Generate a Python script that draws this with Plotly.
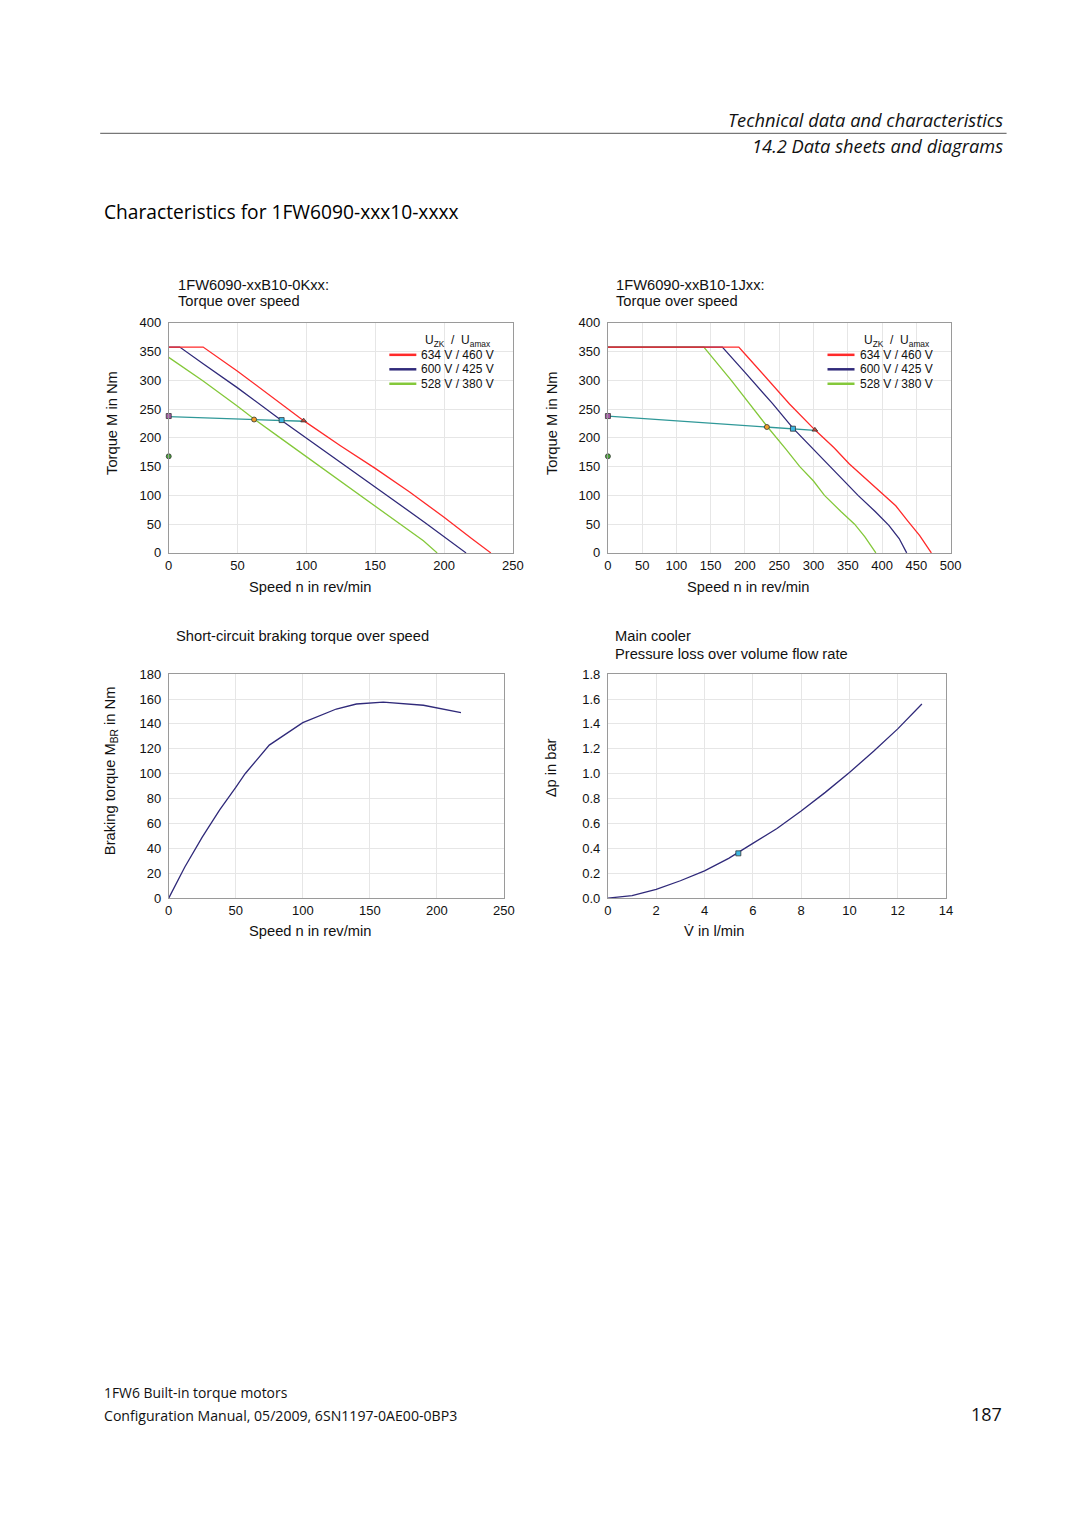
import plotly.graph_objects as go

PAGE_W, PAGE_H = 1080, 1527
BODY_MARGIN = 8
W, H = PAGE_W - 2 * BODY_MARGIN, PAGE_H - 2 * BODY_MARGIN
# measured photo mapping: photo = S * page + C  (compensated below)
SX, CX = 0.9855, 3.95
SY, CY = 0.9922, 5.5

# ---------------- data ----------------
# Top-left: 1FW6090-xxB10-0Kxx torque over speed
tl_red_x = [0, 25, 50, 75, 98, 125, 150, 175, 200, 220, 234]
tl_red_y = [358, 358, 316, 272, 230, 186, 147, 106, 62, 25, 0]
tl_blue_x = [0, 8, 25, 50, 81, 100, 125, 155, 186, 216]
tl_blue_y = [358, 358, 329, 287, 232, 200, 157, 106, 53, 0]
tl_green_x = [0, 25, 50, 62, 81, 112, 139, 168, 185, 195]
tl_green_y = [340, 299, 255, 233, 200, 147, 100, 50, 21, 0]
tl_teal_x = [0, 62, 82, 98]
tl_teal_y = [237, 232, 231, 229]

# Top-right: 1FW6090-xxB10-1Jxx torque over speed
tr_red_x = [0, 191, 200, 228, 265, 302, 330, 352, 380, 403, 420, 438, 455, 472]
tr_red_y = [358, 358, 346, 308, 259, 214, 183, 155, 125, 100, 82, 55, 30, 0]
tr_blue_x = [0, 167, 200, 240, 270, 300, 320, 345, 365, 390, 410, 425, 436]
tr_blue_y = [358, 358, 314, 260, 217, 180, 155, 125, 100, 72, 48, 25, 0]
tr_green_x = [0, 140, 180, 233, 260, 280, 300, 316, 340, 360, 375, 391]
tr_green_y = [358, 358, 300, 219, 180, 150, 125, 100, 72, 50, 28, 0]
tr_teal_x = [0, 232, 270, 302]
tr_teal_y = [238, 219, 216, 213]

# Marker points (purple square, orange point, cyan square, triangle, green circle)
tl_pts_x = [0, 62, 82, 98, 0]
tl_pts_y = [238, 232, 231, 230, 168]
tr_pts_x = [0, 232, 270, 302, 0]
tr_pts_y = [238, 219, 216, 214, 168]

# Bottom-left: short-circuit braking torque
bl_x = [0, 12, 25, 38, 50, 57, 75, 100, 125, 140, 160, 190, 218]
bl_y = [0, 25, 49, 71, 89, 100, 123, 141, 152, 156, 157.5, 155, 149]

# Bottom-right: pressure loss over volume flow
br_x = [0, 1, 2, 3, 4, 5, 6, 7, 8, 9, 10, 11, 12, 13]
br_y = [0, 0.02, 0.07, 0.14, 0.22, 0.32, 0.44, 0.56, 0.70, 0.85, 1.01, 1.18, 1.36, 1.56]
br_pt_x = [5.4]
br_pt_y = [0.36]

legend_labels = ["634 V / 460 V", "600 V / 425 V", "528 V / 380 V"]
RED, BLUE, GREEN, TEAL = "#ff2a2a", "#302a7a", "#84c83a", "#2f9898"
pt_symbols = ["square", "circle", "square", "triangle-up", "circle"]
pt_colors = ["#a85aa8", "#f0a028", "#3cb8e4", "#c84a3a", "#4aa83a"]


# target photo pixel -> paper coordinate
def px(x):
    page = (x - CX) / SX
    return (page - BODY_MARGIN) / W


def py(y):
    page = (y - CY) / SY
    return 1 - (page - BODY_MARGIN) / H


ARIAL = "Liberation Sans, Arial, DejaVu Sans, sans-serif"
OPEN = "Open Sans, Noto Sans, sans-serif"

fig = go.Figure()


def add_line(x, y, color, xa, ya, width=1.3):
    fig.add_trace(go.Scatter(x=x, y=y, mode="lines", line=dict(color=color, width=width),
                             xaxis=xa, yaxis=ya, showlegend=False, hoverinfo="skip"))


# top-left
add_line(tl_green_x, tl_green_y, GREEN, "x", "y")
add_line(tl_blue_x, tl_blue_y, BLUE, "x", "y")
add_line(tl_red_x, tl_red_y, RED, "x", "y")
add_line(tl_teal_x, tl_teal_y, TEAL, "x", "y")
fig.add_trace(go.Scatter(x=tl_pts_x, y=tl_pts_y, mode="markers", xaxis="x", yaxis="y",
                         marker=dict(symbol=pt_symbols, color=pt_colors, size=5,
                                     line=dict(color="#333333", width=0.8)),
                         cliponaxis=False, showlegend=False))
# top-right
add_line(tr_green_x, tr_green_y, GREEN, "x2", "y2")
add_line(tr_blue_x, tr_blue_y, BLUE, "x2", "y2")
add_line(tr_red_x, tr_red_y, RED, "x2", "y2")
add_line(tr_teal_x, tr_teal_y, TEAL, "x2", "y2")
fig.add_trace(go.Scatter(x=tr_pts_x, y=tr_pts_y, mode="markers", xaxis="x2", yaxis="y2",
                         marker=dict(symbol=pt_symbols, color=pt_colors, size=5,
                                     line=dict(color="#333333", width=0.8)),
                         cliponaxis=False, showlegend=False))
# bottom-left
add_line(bl_x, bl_y, BLUE, "x3", "y3")
# bottom-right
add_line(br_x, br_y, BLUE, "x4", "y4")
fig.add_trace(go.Scatter(x=br_pt_x, y=br_pt_y, mode="markers", xaxis="x4", yaxis="y4",
                         marker=dict(symbol="square", color="#3cb8e4", size=5,
                                     line=dict(color="#333333", width=0.8)),
                         showlegend=False))


def axis(domain, rng, dtick, anchor, fmt=None, ylab=False):
    d = dict(domain=domain, range=rng, dtick=dtick, tick0=0, showgrid=True,
             gridcolor="#e6e6e6", gridwidth=1, showline=True, linecolor="#9a9a9a",
             linewidth=1, mirror=True, zeroline=False, ticks="", anchor=anchor,
             tickfont=dict(family=ARIAL, size=13, color="#111111"), fixedrange=True)
    if ylab:
        d["ticklabelstandoff"] = 4
    if fmt:
        d["tickformat"] = fmt
    return d


dom_tl_x = [px(168.5), px(512.5)]
dom_tr_x = [px(607.5), px(950)]
dom_t_y = [py(552.5), py(322)]
dom_bl_x = [px(168.5), px(503.5)]
dom_br_x = [px(607.5), px(945.5)]
dom_b_y = [py(898.5), py(674)]

fig.update_layout(
    width=W, height=H, margin=dict(l=0, r=0, t=0, b=0),
    paper_bgcolor="white", plot_bgcolor="white",
    xaxis=axis(dom_tl_x, [0, 250], 50, "y"),
    yaxis=axis(dom_t_y, [0, 400], 50, "x", ylab=True),
    xaxis2=axis(dom_tr_x, [0, 500], 50, "y2"),
    yaxis2=axis(dom_t_y, [0, 400], 50, "x2", ylab=True),
    xaxis3=axis(dom_bl_x, [0, 250], 50, "y3"),
    yaxis3=axis(dom_b_y, [0, 180], 20, "x3", ylab=True),
    xaxis4=axis(dom_br_x, [0, 14], 2, "y4"),
    yaxis4=axis(dom_b_y, [0, 1.8], 0.2, "x4", fmt=".1f", ylab=True),
)

ann = []
shapes = []


def text(t, x, y, size=14.7, xanchor="left", yanchor="middle", family=ARIAL, angle=0,
         style="normal", color="#111111"):
    ann.append(dict(text=t, x=px(x), y=py(y), xref="paper", yref="paper", showarrow=False,
                    xanchor=xanchor, yanchor=yanchor, textangle=angle,
                    font=dict(family=family, size=size, color=color, style=style)))


# header
text("Technical data and characteristics", 1004, 118, size=18.3, xanchor="right",
     family=OPEN, style="italic")
text("14.2 Data sheets and diagrams", 1004, 144, size=18.3, xanchor="right",
     family=OPEN, style="italic")
shapes.append(dict(type="line", xref="paper", yref="paper", x0=px(100), x1=px(1006),
                   y0=py(132), y1=py(132), line=dict(color="#555555", width=1)))
text("Characteristics for 1FW6090-xxx10-xxxx", 102, 210, size=19.2, family=OPEN,
     color="#000000")

# chart titles
text("1FW6090-xxB10-0Kxx:", 176, 284)
text("Torque over speed", 176, 300)
text("1FW6090-xxB10-1Jxx:", 614, 284)
text("Torque over speed", 614, 300)
text("Short-circuit braking torque over speed", 174, 636)
text("Main cooler", 613, 636)
text("Pressure loss over volume flow rate", 613, 654)

# axis titles
text("Torque M in Nm", 111, 422, xanchor="center", angle=-90)
text("Torque M in Nm", 551, 422, xanchor="center", angle=-90)
text("Speed n in rev/min", 310, 587, xanchor="center")
text("Speed n in rev/min", 748, 587, xanchor="center")
text("Braking torque M<sub>BR</sub> in Nm", 111, 771, xanchor="center", angle=-90)
text("Speed n in rev/min", 310, 931, xanchor="center")
text("\u0394p in bar", 551, 768, xanchor="center", angle=-90)
text("V\u0307 in l/min", 714, 931, xanchor="center")

# legends (top charts)
for off in (0, 438):
    text("U<sub>ZK</sub>  /  U<sub>amax</sub>", 458 + off, 340, size=12, xanchor="center")
    for i, (lab, col) in enumerate(zip(legend_labels, [RED, BLUE, GREEN])):
        yy = 354 + 14.5 * i
        shapes.append(dict(type="line", xref="paper", yref="paper", x0=px(389 + off),
                           x1=px(416 + off), y0=py(yy), y1=py(yy),
                           line=dict(color=col, width=2.5)))
        text(lab, 419 + off, yy, size=12)

# footer
text("1FW6 Built-in torque motors", 102, 1394, size=13.9, family=OPEN)
text("Configuration Manual, 05/2009, 6SN1197-0AE00-0BP3", 102, 1417, size=14.1, family=OPEN)
text("187", 1003, 1415, size=18, xanchor="right", family=OPEN)

fig.update_layout(annotations=ann, shapes=shapes)
fig.write_html("out.html", config={"displayModeBar": False})
